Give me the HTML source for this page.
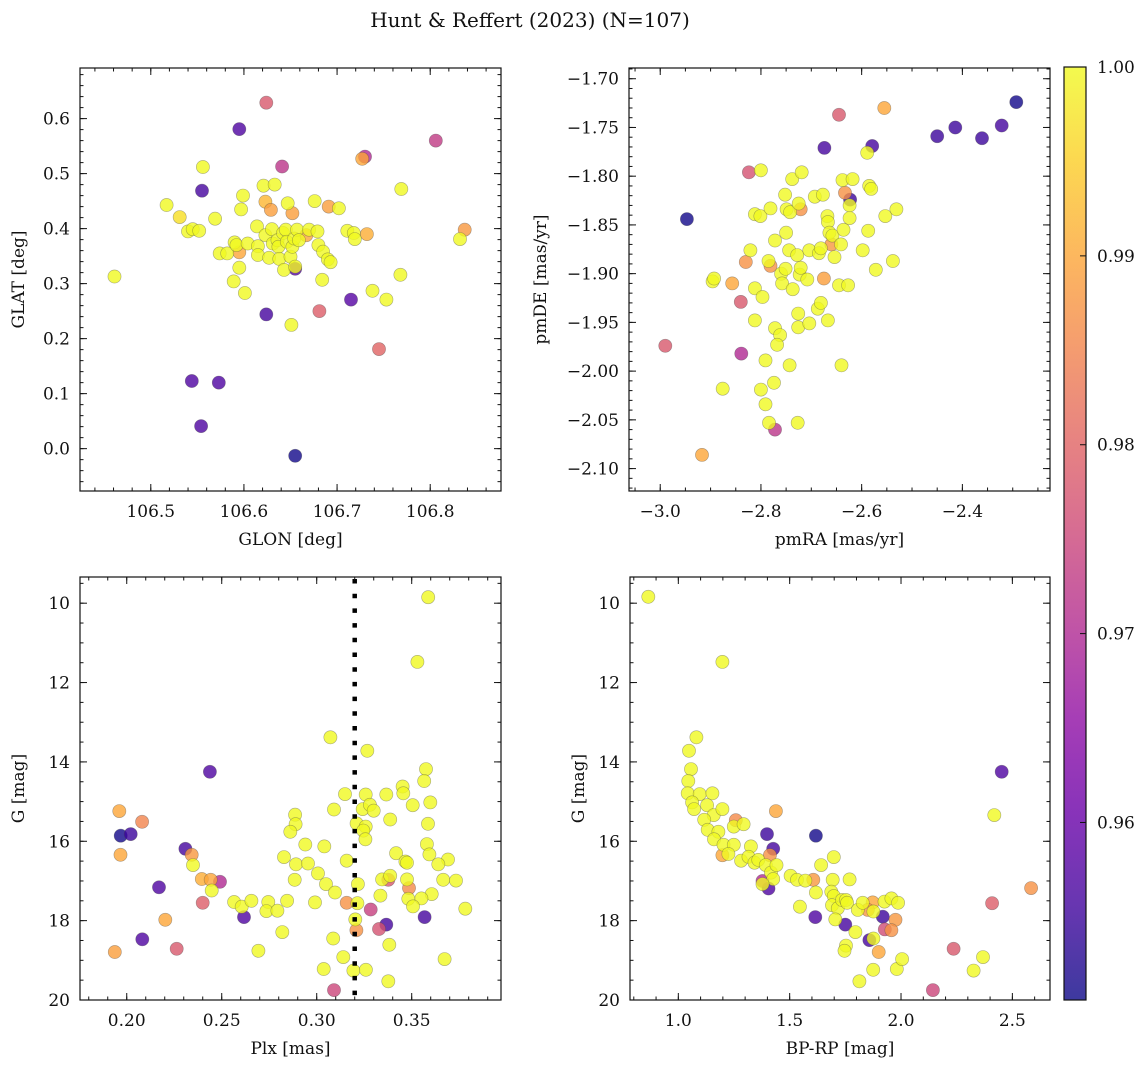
<!DOCTYPE html>
<html><head><meta charset="utf-8"><title>Hunt & Reffert (2023)</title>
<style>
html,body{margin:0;padding:0;background:#fff;}
svg text{font-family:"DejaVu Serif","Liberation Serif",serif;fill:#111;}
</style></head>
<body>
<svg id="fig" width="1148" height="1067" viewBox="0 0 1148 1067" xmlns="http://www.w3.org/2000/svg">
<text x="530" y="27" font-size="20" text-anchor="middle">Hunt &amp; Reffert (2023) (N=107)</text>
</svg>
<script>
// ---------- Panel 1: GLON / GLAT ----------
const p1Glon=[106.595,106.555,106.544,106.573,106.554,106.624,106.655,106.715,106.655,106.730,
106.624,106.641,106.806,106.681,106.745,
106.727,106.531,106.623,106.629,106.652,106.691,106.732,106.837,106.595,106.667,
106.461,106.517,106.556,106.540,106.545,106.552,106.569,106.574,106.582,106.589,106.590,106.592,106.595,106.601,106.599,106.597,106.604,106.614,106.615,106.615,106.621,106.633,106.623,106.627,106.630,106.631,106.636,106.637,106.638,106.642,106.645,106.646,106.647,106.650,106.643,106.652,106.654,106.657,106.659,106.670,106.676,106.679,106.680,106.685,106.690,106.693,106.684,106.702,106.711,106.718,106.719,106.738,106.753,106.768,106.769,106.832,106.651,106.655];
const p1Glat=[0.581,0.469,0.123,0.120,0.041,0.244,-0.013,0.271,0.327,0.531,
0.629,0.513,0.560,0.250,0.181,
0.527,0.421,0.449,0.434,0.428,0.440,0.390,0.398,0.357,0.388,
0.313,0.443,0.512,0.395,0.399,0.396,0.418,0.355,0.355,0.304,0.375,0.370,0.329,0.283,0.460,0.435,0.373,0.404,0.368,0.352,0.478,0.480,0.388,0.347,0.399,0.373,0.379,0.367,0.345,0.392,0.398,0.376,0.446,0.349,0.325,0.367,0.382,0.398,0.379,0.398,0.450,0.395,0.370,0.358,0.344,0.339,0.307,0.437,0.396,0.392,0.381,0.287,0.271,0.316,0.472,0.381,0.225,0.331];
const p1Prob=[0.957,0.956,0.957,0.957,0.957,0.956,0.951,0.958,0.958,0.970,
0.978,0.972,0.973,0.979,0.980,
0.990,0.997,0.992,0.989,0.989,0.989,0.991,0.988,0.990,0.990];

// ---------- Panel 2: pmRA / pmDE ----------
const p2PmRA=[-2.947,-2.293,-2.450,-2.414,-2.361,-2.322,-2.674,-2.579,-2.623,
-2.990,-2.824,-2.840,-2.839,-2.772,-2.645,
-2.917,-2.555,-2.830,-2.857,-2.675,-2.633,-2.721,-2.781,-2.660,
-2.896,-2.893,-2.876,-2.821,-2.812,-2.801,-2.800,-2.812,-2.797,-2.812,-2.791,-2.800,-2.791,-2.784,-2.774,-2.781,-2.785,-2.772,-2.772,-2.762,-2.768,-2.760,-2.758,-2.752,-2.750,-2.749,-2.742,-2.744,-2.751,-2.737,-2.743,-2.738,-2.728,-2.725,-2.723,-2.721,-2.726,-2.726,-2.727,-2.719,-2.708,-2.704,-2.704,-2.693,-2.687,-2.685,-2.681,-2.677,-2.681,-2.668,-2.667,-2.667,-2.664,-2.658,-2.654,-2.645,-2.641,-2.638,-2.636,-2.640,-2.624,-2.624,-2.627,-2.618,-2.598,-2.589,-2.585,-2.581,-2.587,-2.572,-2.553,-2.538,-2.531];
const p2PmDE=[-1.844,-1.724,-1.759,-1.750,-1.761,-1.748,-1.771,-1.769,-1.824,
-1.974,-1.796,-1.929,-1.982,-2.060,-1.737,
-2.086,-1.730,-1.888,-1.910,-1.905,-1.817,-1.834,-1.892,-1.870,
-1.908,-1.905,-2.018,-1.876,-1.839,-1.841,-1.794,-1.915,-1.924,-1.948,-1.989,-2.019,-2.034,-2.053,-2.012,-1.833,-1.887,-1.866,-1.956,-1.963,-1.973,-1.900,-1.910,-1.819,-1.858,-1.834,-1.837,-1.876,-1.895,-1.916,-1.994,-1.803,-1.881,-1.828,-1.901,-1.894,-1.941,-1.955,-2.053,-1.796,-1.906,-1.951,-1.876,-1.821,-1.936,-1.879,-1.930,-1.819,-1.874,-1.841,-1.847,-1.948,-1.858,-1.861,-1.883,-1.912,-1.870,-1.804,-1.855,-1.994,-1.830,-1.843,-1.912,-1.803,-1.876,-1.776,-1.810,-1.813,-1.856,-1.896,-1.841,-1.887,-1.834];
const p2Prob=[0.951,0.951,0.955,0.955,0.955,0.956,0.956,0.956,0.955,
0.978,0.977,0.978,0.970,0.972,0.978,
0.990,0.990,0.987,0.990,0.989,0.987,0.987,0.987,0.988];

// ---------- Panel 3: Plx / G ----------
const p3Plx=[0.1968,0.2021,0.2309,0.2438,0.2170,0.2082,0.2617,0.3366,0.3568,
0.2400,0.2263,0.2491,0.3284,0.3328,0.3091,0.3377,
0.1961,0.2081,0.1967,0.2342,0.2395,0.2442,0.2203,0.1937,0.3158,0.3209,0.3486,
0.3587,0.3530,0.3072,0.3266,0.3575,0.3566,0.3149,0.3258,0.3366,0.3452,0.3456,0.3598,0.3505,0.3091,0.3242,0.3280,0.3300,0.3387,0.3586,0.2886,0.2889,0.2861,0.3210,0.3258,0.3245,0.3256,0.2940,0.3040,0.3580,0.3593,0.3418,0.3467,0.3475,0.3691,0.3640,0.2828,0.2891,0.2954,0.3158,0.2349,0.3007,0.2884,0.3049,0.3344,0.3387,0.3475,0.3666,0.3733,0.3217,0.2447,0.3096,0.3335,0.3605,0.3551,0.3482,0.3507,0.2565,0.2605,0.2656,0.2745,0.2735,0.2793,0.2844,0.2991,0.3214,0.3782,0.3203,0.2819,0.3087,0.3382,0.2693,0.3140,0.3673,0.3037,0.3193,0.3259,0.3377];
const p3G=[15.86,15.82,16.19,14.25,17.16,18.47,17.91,18.10,17.91,
17.55,18.71,17.02,17.72,18.21,19.75,16.97,
15.24,15.51,16.34,16.34,16.95,16.97,17.98,18.79,17.55,18.24,17.18,
9.85,11.48,13.38,13.72,14.18,14.48,14.81,14.82,14.82,14.62,14.79,15.02,15.09,15.20,15.19,15.08,15.23,15.45,15.56,15.33,15.57,15.76,15.55,15.63,15.73,15.95,16.08,16.13,16.07,16.33,16.30,16.51,16.54,16.46,16.58,16.40,16.58,16.56,16.49,16.60,16.81,16.97,17.08,16.96,16.87,16.96,16.97,16.99,17.08,17.24,17.29,17.37,17.33,17.44,17.45,17.64,17.53,17.65,17.50,17.53,17.76,17.75,17.50,17.54,17.56,17.70,17.97,18.29,18.45,18.61,18.76,18.92,18.97,19.22,19.26,19.24,19.53];
const p3Prob=[0.951,0.955,0.956,0.957,0.957,0.957,0.957,0.956,0.956,
0.979,0.978,0.970,0.974,0.977,0.975,0.978,
0.990,0.985,0.990,0.988,0.991,0.990,0.990,0.989,0.987,0.987,0.986];

// ---------- Panel 4: BP-RP / G ----------
const p4BpRp=[1.398,1.618,1.426,1.405,2.452,1.615,1.750,1.918,1.858,
2.409,2.236,1.927,2.143,1.378,
1.438,1.411,1.198,1.258,1.606,1.873,1.975,1.957,1.900,2.584,1.851,
0.865,1.198,1.081,1.048,1.057,1.045,1.042,1.096,1.153,1.062,1.071,1.129,1.159,1.198,1.116,1.132,1.180,1.160,1.249,1.293,1.203,1.249,1.225,1.282,1.326,1.315,1.342,1.359,1.393,1.416,1.441,1.426,1.378,1.504,1.533,1.570,1.618,1.641,1.698,1.693,1.769,1.687,1.698,1.690,1.716,1.735,1.753,1.758,1.806,1.828,1.876,1.926,1.957,1.987,1.546,1.705,1.795,1.876,1.753,1.746,1.875,1.981,2.005,1.813,2.368,2.326,2.419];
const p4G=[15.82,15.86,16.19,17.19,14.25,17.91,18.10,17.90,18.49,
17.56,18.71,18.22,19.75,17.00,
15.24,16.35,16.35,15.47,16.97,17.54,17.98,18.24,18.79,17.18,17.73,
9.84,11.48,13.38,13.72,14.18,14.48,14.79,14.81,14.79,15.02,15.19,15.09,15.34,15.19,15.46,15.71,15.76,15.95,15.63,15.57,16.09,16.09,16.32,16.49,16.13,16.39,16.54,16.47,16.60,16.79,16.60,16.95,17.08,16.87,16.97,16.99,17.29,16.60,16.40,16.97,16.96,17.27,17.38,17.61,17.69,17.48,17.48,17.55,17.73,17.55,17.77,17.52,17.44,17.55,17.65,17.97,18.29,18.45,18.63,18.76,19.24,19.22,18.97,19.53,18.92,19.26,15.34];
const p4Prob=[0.955,0.951,0.956,0.957,0.957,0.957,0.956,0.955,0.956,
0.979,0.978,0.976,0.975,0.970,
0.990,0.987,0.990,0.986,0.988,0.990,0.988,0.987,0.990,0.987,0.988];

// colour scale
const cMin=0.9506, cMax=1.0;
const cbTicks=[1.00,0.99,0.98,0.97,0.96];

const NS="http://www.w3.org/2000/svg";
const svg=document.getElementById('fig');
function mk(tag,attrs,parent){const e=document.createElementNS(NS,tag);for(const k in attrs)e.setAttribute(k,attrs[k]);(parent||svg).appendChild(e);return e;}

const plasma=[[13,8,135],[65,4,157],[106,0,168],[143,13,164],[177,42,144],[204,71,120],[225,100,98],[242,132,75],[252,166,54],[252,206,37],[240,249,33]];
function cmap(v){let t=(v-cMin)/(cMax-cMin);t=Math.max(0,Math.min(1,t));const f=t*10;const i=Math.min(9,Math.floor(f));const u=f-i;const a=plasma[i],b=plasma[i+1];
return 'rgb('+[0,1,2].map(k=>Math.round(a[k]+(b[k]-a[k])*u)).join(',')+')';}

function fmt(v,d){let s=v.toFixed(d);return s.replace('-','\u2212');}

function panel(cfg){
  const {name,x0,x1,y0,y1,xlim,ylim,xMaj,xMin,yMaj,yMin,xDec,yDec,xLabel,yLabel,xs,ys,ps,yLabelX}=cfg;
  const g=mk('g',{});
  
  
  const sx=v=>x0+(v-xlim[0])/(xlim[1]-xlim[0])*(x1-x0);
  const sy=v=>y1-(v-ylim[0])/(ylim[1]-ylim[0])*(y1-y0);
  const clipId=name+'-clip';
  const cp=mk('clipPath',{id:clipId},g);mk('rect',{x:x0,y:y0,width:x1-x0,height:y1-y0},cp);
  const pts=mk('g',{'clip-path':'url(#'+clipId+')'},g);
  
  
  const n=Math.min(xs.length,ys.length);
  for(let i=0;i<n;i++){
    const p=(ps[i]===undefined)?1:ps[i];
    const c=mk('circle',{cx:sx(xs[i]).toFixed(1),cy:sy(ys[i]).toFixed(1),r:6.6,fill:cmap(p),'fill-opacity':0.8,stroke:'#4a4a4a','stroke-opacity':0.45,'stroke-width':0.6},pts);
    
    
  }
  if(cfg.extra)cfg.extra(g,sx,sy);
  const fr=mk('rect',{x:x0,y:y0,width:x1-x0,height:y1-y0,fill:'none',stroke:'#111','stroke-width':1.2},g);
  
  
  const tg=mk('g',{stroke:'#111','stroke-width':1},g);
  const lo=Math.min(xlim[0],xlim[1]),hi=Math.max(xlim[0],xlim[1]);
  function ticksX(step,len){const s=Math.ceil(lo/step-1e-6);for(let k=s;k*step<=hi+1e-9;k++){const v=k*step;const X=sx(v);mk('line',{x1:X,x2:X,y1:y1,y2:y1-len},tg);mk('line',{x1:X,x2:X,y1:y0,y2:y0+len},tg);}}
  const ylo=Math.min(ylim[0],ylim[1]),yhi=Math.max(ylim[0],ylim[1]);
  function ticksY(step,len){const s=Math.ceil(ylo/step-1e-6);for(let k=s;k*step<=yhi+1e-9;k++){const v=k*step;const Y=sy(v);mk('line',{x1:x0,x2:x0+len,y1:Y,y2:Y},tg);mk('line',{x1:x1,x2:x1-len,y1:Y,y2:Y},tg);}}
  ticksX(xMin,3.5);ticksX(xMaj,7);ticksY(yMin,3.5);ticksY(yMaj,7);
  {const s=Math.ceil(lo/xMaj-1e-6);for(let k=s;k*xMaj<=hi+1e-9;k++){const v=k*xMaj;const t=mk('text',{x:sx(v),y:y1+26,'font-size':17,'text-anchor':'middle'},g);t.textContent=fmt(v,xDec);}}
  {const s=Math.ceil(ylo/yMaj-1e-6);for(let k=s;k*yMaj<=yhi+1e-9;k++){const v=k*yMaj;const t=mk('text',{x:x0-10,y:sy(v)+6,'font-size':17,'text-anchor':'end'},g);t.textContent=fmt(Math.abs(v)<1e-9?0:v,yDec);}}
  const xl=mk('text',{x:(x0+x1)/2,y:y1+54,'font-size':17,'text-anchor':'middle'},g);xl.textContent=xLabel;
  
  
  const cy=(y0+y1)/2;
  const yl=mk('text',{x:yLabelX,y:cy,'font-size':17,'text-anchor':'middle',transform:'rotate(-90 '+yLabelX+' '+cy+')'},g);yl.textContent=yLabel;
  
  
}

panel({name:'glon-glat-panel',x0:80,x1:501,y0:68,y1:491,xlim:[106.424,106.876],ylim:[-0.077,0.692],xMaj:0.1,xMin:0.02,yMaj:0.1,yMin:0.02,xDec:1,yDec:1,xLabel:'GLON [deg]',yLabel:'GLAT [deg]',xs:p1Glon,ys:p1Glat,ps:p1Prob,yLabelX:24});
panel({name:'proper-motion-panel',x0:629,x1:1050,y0:68,y1:491,xlim:[-3.062,-2.226],ylim:[-2.123,-1.689],xMaj:0.2,xMin:0.05,yMaj:0.05,yMin:0.01,xDec:1,yDec:2,xLabel:'pmRA [mas/yr]',yLabel:'pmDE [mas/yr]',xs:p2PmRA,ys:p2PmDE,ps:p2Prob,yLabelX:546});
panel({name:'parallax-magnitude-panel',x0:80,x1:501,y0:577,y1:1000,xlim:[0.1754,0.397],ylim:[20.0,9.34],xMaj:0.05,xMin:0.01,yMaj:2,yMin:0.5,xDec:2,yDec:0,xLabel:'Plx [mas]',yLabel:'G [mag]',xs:p3Plx,ys:p3G,ps:p3Prob,yLabelX:24,
 extra:function(g,sx,sy){const X=sx(0.32);const l=mk('line',{x1:X,x2:X,y1:579,y2:1000,stroke:'#000','stroke-width':4.5,'stroke-dasharray':'4.5 10.2'},g);}});
panel({name:'color-magnitude-panel',x0:630,x1:1050,y0:577,y1:1000,xlim:[0.783,2.669],ylim:[20.0,9.34],xMaj:0.5,xMin:0.1,yMaj:2,yMin:0.5,xDec:1,yDec:0,xLabel:'BP-RP [mag]',yLabel:'G [mag]',xs:p4BpRp,ys:p4G,ps:p4Prob,yLabelX:584});

// ---------- colorbar ----------
(function(){
  const cx0=1064,cx1=1086,cy0=67,cy1=1000;
  const g=mk('g',{});
  
  
  const defs=mk('defs',{},g);
  const lg=mk('linearGradient',{id:'cbgrad',x1:0,y1:1,x2:0,y2:0},defs);
  for(let i=0;i<=20;i++){const v=cMin+(cMax-cMin)*i/20;mk('stop',{offset:(i/20),'stop-color':cmap(v)},lg);}
  mk('rect',{x:cx0,y:cy0,width:cx1-cx0,height:cy1-cy0,fill:'url(#cbgrad)','fill-opacity':0.8},g);
  mk('rect',{x:cx0,y:cy0,width:cx1-cx0,height:cy1-cy0,fill:'none',stroke:'#111','stroke-width':1.2},g);
  const sy=v=>cy1-(v-cMin)/(cMax-cMin)*(cy1-cy0);
  cbTicks.forEach(v=>{const Y=sy(v);mk('line',{x1:cx1,x2:cx1-6,y1:Y,y2:Y,stroke:'#111','stroke-width':1},g);
    const t=mk('text',{x:cx1+11,y:Y+6,'font-size':17},g);t.textContent=v.toFixed(2);
    
    });
})();
</script>
</body></html>
